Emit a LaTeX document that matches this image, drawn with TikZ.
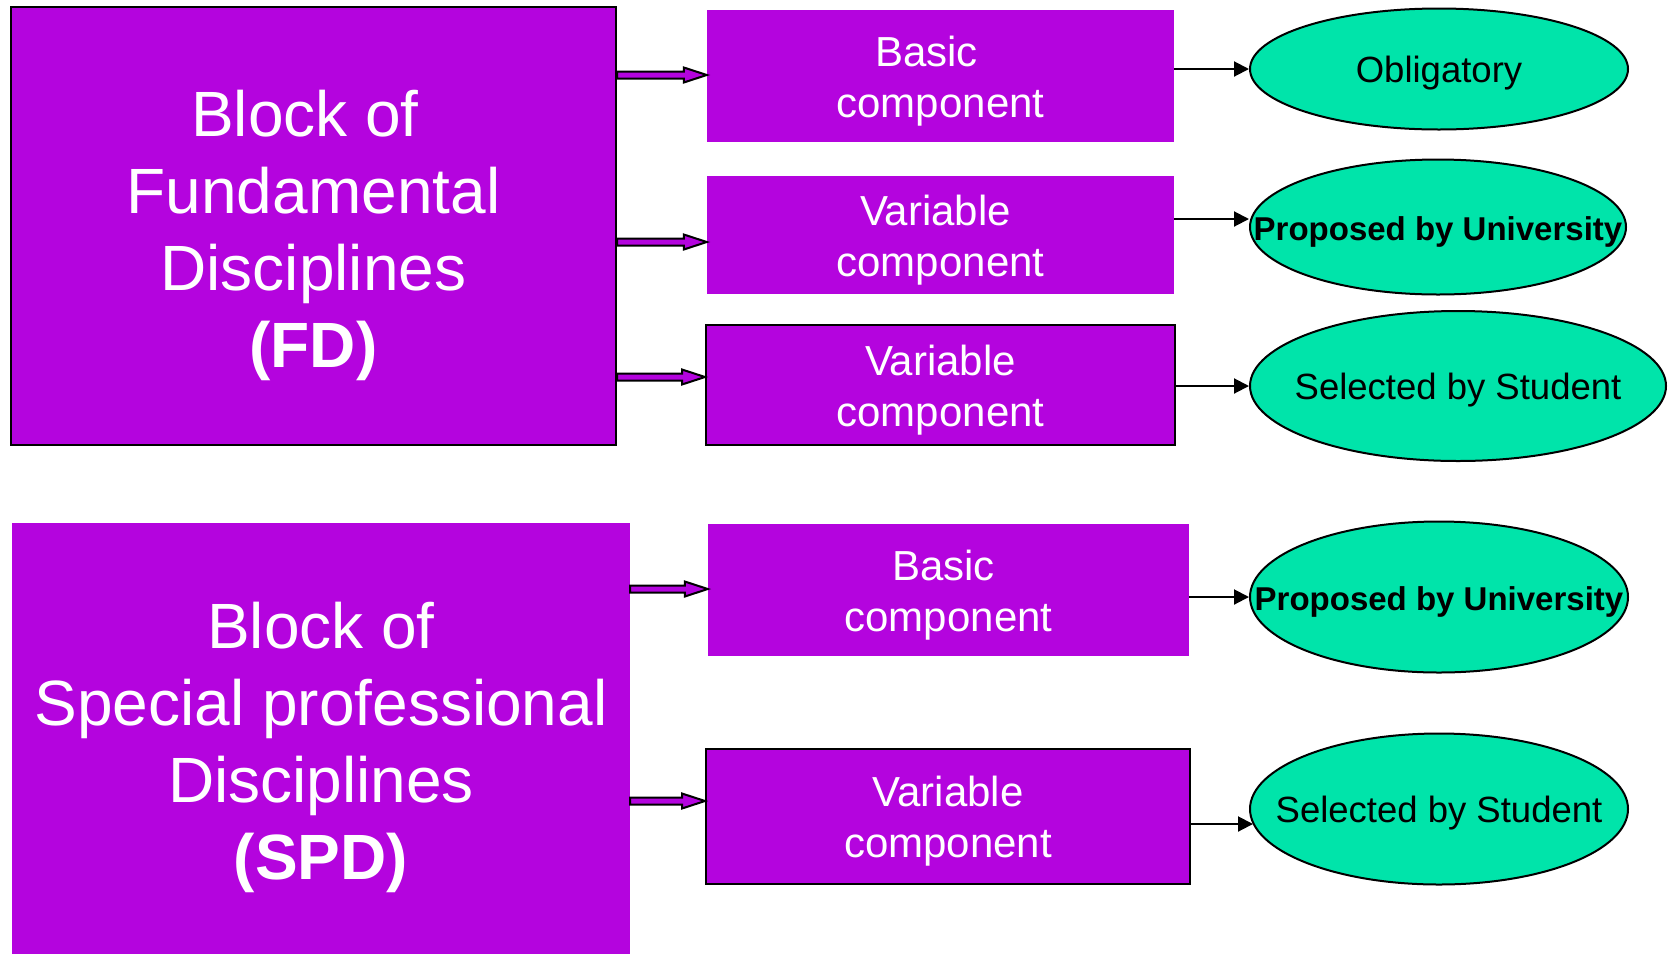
\documentclass[tikz,border=0pt]{standalone}
\usepackage{fontspec}
\setmainfont{Liberation Sans}
\usetikzlibrary{arrows.meta,calc,shapes.geometric}
\definecolor{vio}{RGB}{180,4,222}
\definecolor{mint}{RGB}{0,228,170}
\newcommand\fatarrow[3]{%
  \path[fat] let \p1=(#1.east), \p2=(#2.west), \p3=(0,#3) in
   (\x1,\y3+3.5pt) -- (\x2-23pt,\y3+3.5pt) -- (\x2-23pt,\y3+7.5pt) -- (\x2,\y3)
   -- (\x2-23pt,\y3-7.5pt) -- (\x2-23pt,\y3-3.5pt) -- (\x1,\y3-3.5pt) -- cycle;}
\begin{document}
\begin{tikzpicture}[x=1pt,y=-1pt,
  boxed/.style={fill=vio, inner sep=0pt},
  blktext/.style={text=white, align=center, inner sep=0pt, yshift=-9pt, font=\fontsize{64}{77}\selectfont},
  comptext/.style={text=white, align=center, inner sep=0pt, yshift=-5pt, font=\fontsize{42}{51}\selectfont},
  oval/.style={ellipse, fill=mint, draw=black, line width=2pt, inner sep=0pt},
  otext/.style={yshift=-4pt, font=\fontsize{36.5}{44}\selectfont},
  obold/.style={yshift=-5pt, font=\fontsize{33}{40}\selectfont\bfseries},
  frame/.style={draw=black, line width=2pt},
  link/.style={draw=black, line width=2pt, -{Triangle[length=15pt,width=15pt]}},
  fat/.style={fill=vio, draw=black, line width=2pt, line join=miter}]
\useasboundingbox (0,0) rectangle (1670,954);
% left blocks
\node[boxed, frame, minimum width=605pt, minimum height=438pt,
  label={[blktext]center:{Block of\hspace*{17pt}\\Fundamental\\Disciplines\\\textbf{(FD)}}}] (fd) at (313.5,226) {};
\node[boxed, minimum width=618pt, minimum height=431pt,
  label={[blktext]center:{Block of\\Special professional\\Disciplines\\\textbf{(SPD)}}}] (spd) at (321,738.5) {};
% components
\node[boxed, minimum width=467pt, minimum height=132pt,
  label={[comptext]center:{Basic\hspace*{28pt}\\component}}] (b1) at (940.5,76) {};
\node[boxed, minimum width=467pt, minimum height=118pt,
  label={[comptext]center:{Variable\hspace*{10pt}\\component}}] (b2) at (940.5,235) {};
\node[boxed, frame, minimum width=469pt, minimum height=120pt,
  label={[comptext]center:{Variable\\component}}] (b3) at (940.5,385) {};
\node[boxed, minimum width=481pt, minimum height=132pt,
  label={[comptext]center:{Basic\hspace*{10pt}\\component}}] (b4) at (948.5,590) {};
\node[boxed, frame, minimum width=484pt, minimum height=135pt,
  label={[comptext]center:{Variable\\component}}] (b5) at (948,816.5) {};
% ellipses
\node[oval, minimum width=378pt, minimum height=121pt, label={[otext]center:Obligatory}] (e1) at (1439,69) {};
\node[oval, minimum width=376pt, minimum height=135pt, label={[obold]center:Proposed by University}] (e2) at (1438,227) {};
\node[oval, minimum width=416pt, minimum height=150pt, label={[otext]center:Selected by Student}] (e3) at (1458,386) {};
\node[oval, minimum width=378pt, minimum height=151pt, label={[obold]center:Proposed by University}] (e4) at (1439,597) {};
\node[oval, minimum width=378pt, minimum height=151pt, label={[otext]center:Selected by Student}] (e5) at (1439,809) {};
% fat arrows
\fatarrow{fd}{b1}{75}
\fatarrow{fd}{b2}{242}
\fatarrow{fd}{b3}{377}
\fatarrow{spd}{b4}{589}
\fatarrow{spd}{b5}{801}
% thin arrows
\draw[link] (b1.east |- e1.west) -- (e1.west);
\draw[link] ($(b2.east |- e2.west)+(0,-8)$) -- ($(e2.west)+(0,-8)$);
\draw[link] (b3.east |- e3.west) -- (e3.west);
\draw[link] (b4.east |- e4.west) -- (e4.west);
\draw[link] ($(b5.east |- e5.west)+(0,15)$) -- ($(e5.west)+(4,15)$);
\end{tikzpicture}
\end{document}
